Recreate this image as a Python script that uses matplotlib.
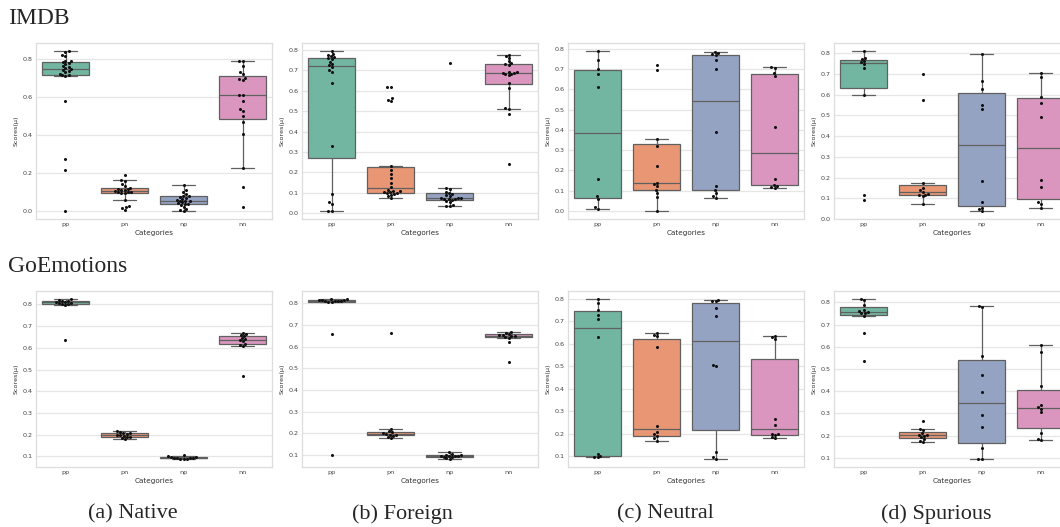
import numpy as np
import pandas as pd
import matplotlib
matplotlib.use("Agg")
import matplotlib.pyplot as plt
import seaborn as sns

categories = ["pp", "pn", "np", "nn"]
row_titles = ["IMDB", "GoEmotions"]
captions = ["(a) Native", "(b) Foreign", "(c) Neutral", "(d) Spurious"]

# ---- IMDB ----
imdb_native_pp = [0.84, 0.835, 0.82, 0.815, 0.79, 0.785, 0.78, 0.775, 0.77, 0.76, 0.755, 0.75,
                  0.745, 0.74, 0.735, 0.73, 0.72, 0.715, 0.712, 0.71, 0.58, 0.275, 0.215, 0.0]
imdb_native_pn = [0.19, 0.165, 0.16, 0.14, 0.13, 0.122, 0.118, 0.115, 0.112, 0.11, 0.105, 0.10,
                  0.10, 0.098, 0.095, 0.093, 0.06, 0.025, 0.02, 0.015, 0.005]
imdb_native_np = [0.135, 0.11, 0.10, 0.09, 0.08, 0.078, 0.075, 0.07, 0.065, 0.06, 0.055, 0.055,
                  0.05, 0.045, 0.04, 0.038, 0.035, 0.03, 0.02, 0.01, 0.005, 0.0]
imdb_native_nn = [0.79, 0.785, 0.76, 0.73, 0.72, 0.70, 0.695, 0.69, 0.61, 0.61, 0.575, 0.535,
                  0.525, 0.50, 0.465, 0.405, 0.225, 0.125, 0.02]

imdb_foreign_pp = [0.795, 0.78, 0.775, 0.77, 0.765, 0.76, 0.755, 0.74, 0.73, 0.725, 0.715, 0.70,
                   0.69, 0.64, 0.33, 0.095, 0.055, 0.045, 0.01, 0.01]
imdb_foreign_pn = [0.62, 0.618, 0.562, 0.556, 0.55, 0.23, 0.21, 0.19, 0.17, 0.145, 0.13, 0.115,
                   0.11, 0.108, 0.105, 0.103, 0.10, 0.098, 0.095, 0.09, 0.085, 0.075]
imdb_foreign_np = [0.735, 0.125, 0.12, 0.105, 0.10, 0.095, 0.09, 0.085, 0.075, 0.075, 0.072, 0.07,
                   0.07, 0.068, 0.065, 0.06, 0.055, 0.04, 0.035, 0.035]
imdb_foreign_nn = [0.775, 0.77, 0.76, 0.745, 0.735, 0.73, 0.725, 0.69, 0.69, 0.688, 0.685, 0.683,
                   0.68, 0.675, 0.64, 0.615, 0.515, 0.51, 0.485, 0.24]

imdb_neutral_pp = [0.79, 0.745, 0.70, 0.675, 0.61, 0.16, 0.075, 0.06, 0.02, 0.01]
imdb_neutral_pn = [0.72, 0.695, 0.355, 0.32, 0.22, 0.14, 0.135, 0.125, 0.105, 0.09, 0.07, 0.0]
imdb_neutral_np = [0.785, 0.78, 0.775, 0.77, 0.745, 0.70, 0.39, 0.125, 0.105, 0.09, 0.075, 0.065]
imdb_neutral_nn = [0.71, 0.705, 0.68, 0.665, 0.415, 0.16, 0.13, 0.125, 0.12, 0.115]

imdb_spurious_pp = [0.81, 0.775, 0.77, 0.76, 0.755, 0.745, 0.73, 0.60, 0.115, 0.09]
imdb_spurious_pn = [0.70, 0.575, 0.175, 0.15, 0.14, 0.13, 0.12, 0.118, 0.115, 0.11, 0.07]
imdb_spurious_np = [0.795, 0.665, 0.625, 0.55, 0.53, 0.185, 0.08, 0.055, 0.05, 0.04]
imdb_spurious_nn = [0.705, 0.685, 0.59, 0.56, 0.49, 0.19, 0.155, 0.08, 0.07, 0.055]

# ---- GoEmotions ----
goemo_native_pp = [0.825, 0.82, 0.818, 0.815, 0.812, 0.81, 0.808, 0.805, 0.803, 0.80, 0.798, 0.635]
goemo_native_pn = [0.215, 0.213, 0.21, 0.208, 0.205, 0.20, 0.198, 0.195, 0.19, 0.188, 0.185, 0.18]
goemo_native_np = [0.105, 0.10, 0.097, 0.095, 0.094, 0.093, 0.092, 0.091, 0.09, 0.089, 0.088]
goemo_native_nn = [0.67, 0.665, 0.66, 0.655, 0.645, 0.64, 0.635, 0.63, 0.62, 0.615, 0.61, 0.47]

goemo_foreign_pp = [0.82, 0.818, 0.816, 0.815, 0.814, 0.813, 0.812, 0.811, 0.81, 0.808, 0.806, 0.66, 0.10]
goemo_foreign_pn = [0.665, 0.22, 0.21, 0.205, 0.20, 0.198, 0.195, 0.192, 0.19, 0.185, 0.18]
goemo_foreign_np = [0.112, 0.105, 0.102, 0.10, 0.098, 0.097, 0.096, 0.095, 0.093, 0.09, 0.085, 0.082]
goemo_foreign_nn = [0.67, 0.665, 0.66, 0.655, 0.652, 0.65, 0.648, 0.645, 0.642, 0.62, 0.53]

goemo_neutral_pp = [0.80, 0.78, 0.75, 0.73, 0.71, 0.63, 0.11, 0.10, 0.098, 0.095]
goemo_neutral_pn = [0.65, 0.64, 0.635, 0.585, 0.235, 0.21, 0.20, 0.19, 0.18, 0.17]
goemo_neutral_np = [0.795, 0.792, 0.79, 0.76, 0.725, 0.505, 0.50, 0.12, 0.095, 0.088]
goemo_neutral_nn = [0.635, 0.63, 0.62, 0.265, 0.24, 0.20, 0.198, 0.195, 0.185, 0.18]

goemo_spurious_pp = [0.815, 0.81, 0.79, 0.765, 0.76, 0.755, 0.752, 0.75, 0.74, 0.66, 0.535]
goemo_spurious_pn = [0.265, 0.23, 0.225, 0.21, 0.205, 0.203, 0.20, 0.195, 0.185, 0.178, 0.172]
goemo_spurious_np = [0.785, 0.78, 0.56, 0.475, 0.395, 0.295, 0.24, 0.145, 0.095, 0.095]
goemo_spurious_nn = [0.61, 0.575, 0.425, 0.34, 0.33, 0.32, 0.305, 0.21, 0.185, 0.18]

panels = [
    [(imdb_native_pp, imdb_native_pn, imdb_native_np, imdb_native_nn),
     (imdb_foreign_pp, imdb_foreign_pn, imdb_foreign_np, imdb_foreign_nn),
     (imdb_neutral_pp, imdb_neutral_pn, imdb_neutral_np, imdb_neutral_nn),
     (imdb_spurious_pp, imdb_spurious_pn, imdb_spurious_np, imdb_spurious_nn)],
    [(goemo_native_pp, goemo_native_pn, goemo_native_np, goemo_native_nn),
     (goemo_foreign_pp, goemo_foreign_pn, goemo_foreign_np, goemo_foreign_nn),
     (goemo_neutral_pp, goemo_neutral_pn, goemo_neutral_np, goemo_neutral_nn),
     (goemo_spurious_pp, goemo_spurious_pn, goemo_spurious_np, goemo_spurious_nn)],
]
yticks_rows = [
    [np.arange(0, 0.81, 0.2), np.arange(0, 0.81, 0.1), np.arange(0, 0.81, 0.1), np.arange(0, 0.81, 0.1)],
    [np.arange(0.1, 0.81, 0.1)] * 4,
]

sns.set_theme(style="whitegrid")
plt.rcParams["font.family"] = ["DejaVu Sans"]
palette = sns.color_palette("Set2", 4)

fig = plt.figure(figsize=(10.6, 5.27), dpi=100)
W, H = 1060, 527
lefts = [36, 302, 568, 834]
aw = 236
tops = [43, 291]
ah = 176

for r in range(2):
    for c in range(4):
        ax = fig.add_axes([lefts[c] / W, 1 - (tops[r] + ah) / H, aw / W, ah / H])
        vals = panels[r][c]
        df = pd.DataFrame({
            "Categories": np.concatenate([[cat] * len(v) for cat, v in zip(categories, vals)]),
            "score": np.concatenate([np.asarray(v, float) for v in vals]),
        })
        sns.boxplot(data=df, x="Categories", y="score", hue="Categories", order=categories,
                    hue_order=categories, palette=palette, saturation=0.75, showfliers=False,
                    linewidth=0.9, linecolor="#606060", width=0.8, legend=False, ax=ax)
        sns.swarmplot(data=df, x="Categories", y="score", order=categories, color="#111111",
                      size=2.2, ax=ax)
        ax.set_yticks(yticks_rows[r][c])
        ax.set_yticklabels([f"{t:.1f}" for t in yticks_rows[r][c]])
        ax.set_ylabel("Scores(µ)", fontsize=4.6, labelpad=3, color="#333333")
        ax.set_xlabel("Categories", fontsize=5.2, labelpad=1.5, color="#333333")
        ax.tick_params(axis="both", labelsize=4.6, pad=2.5, length=0, colors="#444444")
        ax.grid(True, axis="y", color="#e6e6e6", linewidth=0.9)
        ax.grid(False, axis="x")
        for s in ax.spines.values():
            s.set_color("#dddddd")
            s.set_linewidth(0.9)

fig.text(8 / W, 1 - 18 / H, row_titles[0], fontsize=17, family="Liberation Serif",
         ha="left", va="center")
fig.text(8 / W, 1 - 266 / H, row_titles[1], fontsize=17, family="Liberation Serif",
         ha="left", va="center")
cap_x = [133, 402, 665, 936]
for x, t in zip(cap_x, captions):
    fig.text(x / W, 1 - 514 / H, t, fontsize=16, family="Liberation Serif",
             ha="center", va="center")

fig.savefig("out.png", dpi=100)
